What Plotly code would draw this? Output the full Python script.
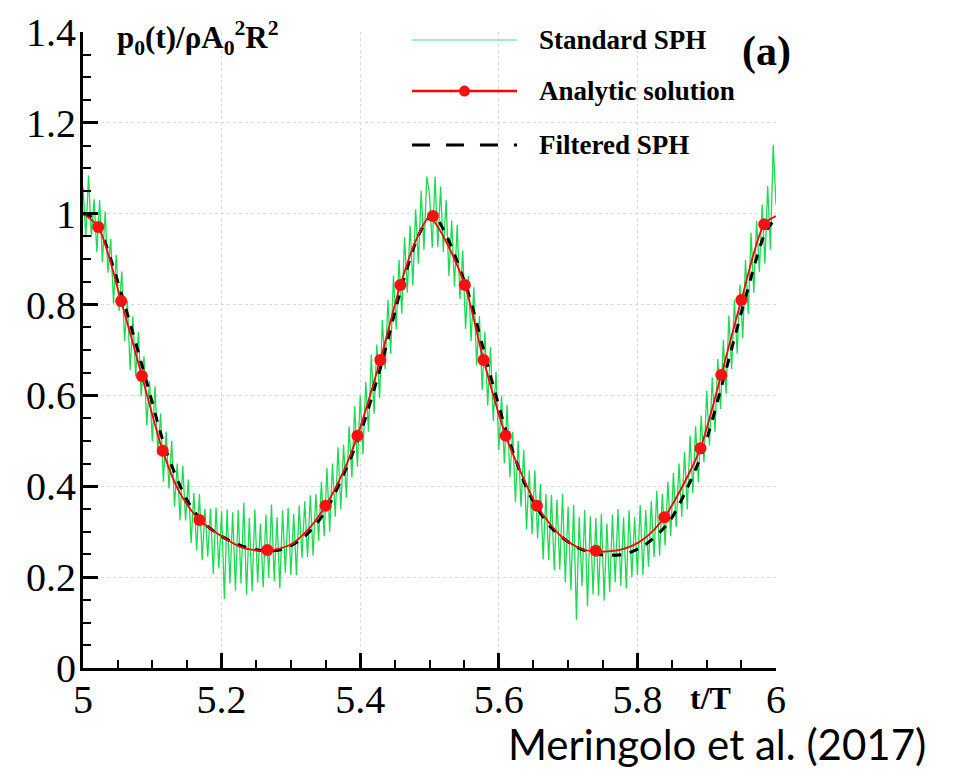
import numpy as np
import plotly.graph_objects as go

# --- data ---
# Standard SPH: sampled every 0.004 t/T from 5.0 to 6.0
sph_p = [
    1.060, 0.948, 1.084, 0.948, 1.032, 0.915, 1.030, 0.893, 1.005, 0.870,
    0.945, 0.802, 0.909, 0.786, 0.873, 0.720, 0.808, 0.656, 0.774, 0.642,
    0.740, 0.598, 0.686, 0.534, 0.632, 0.500, 0.620, 0.470, 0.560, 0.410,
    0.520, 0.395, 0.500, 0.355, 0.450, 0.325, 0.445, 0.325, 0.415, 0.275,
    0.385, 0.259, 0.383, 0.237, 0.351, 0.245, 0.351, 0.207, 0.353, 0.219,
    0.345, 0.152, 0.349, 0.186, 0.343, 0.170, 0.348, 0.186, 0.364, 0.162,
    0.330, 0.169, 0.349, 0.188, 0.318, 0.177, 0.338, 0.199, 0.360, 0.191,
    0.332, 0.175, 0.347, 0.210, 0.352, 0.205, 0.339, 0.204, 0.358, 0.243,
    0.367, 0.244, 0.380, 0.247, 0.383, 0.280, 0.410, 0.290, 0.440, 0.300,
    0.450, 0.333, 0.486, 0.349, 0.492, 0.375, 0.532, 0.419, 0.576, 0.443,
    0.600, 0.470, 0.630, 0.520, 0.690, 0.560, 0.712, 0.594, 0.766, 0.658,
    0.810, 0.692, 0.864, 0.746, 0.898, 0.780, 0.948, 0.826, 0.974, 0.842,
    1.010, 0.890, 1.051, 0.921, 1.082,
    1.042, 0.925, 1.082, 0.926, 1.060, 0.915, 1.030, 0.863, 0.985, 0.840,
    0.975, 0.812, 0.919, 0.746, 0.863, 0.720, 0.838, 0.666, 0.774, 0.612,
    0.740, 0.578, 0.706, 0.544, 0.652, 0.480, 0.600, 0.450, 0.580, 0.420,
    0.520, 0.365, 0.500, 0.355, 0.480, 0.305, 0.435, 0.295, 0.435, 0.285,
    0.405, 0.239, 0.383, 0.237, 0.381, 0.215, 0.371, 0.217, 0.383, 0.189,
    0.355, 0.172, 0.359, 0.106, 0.333, 0.180, 0.348, 0.136, 0.334, 0.162,
    0.330, 0.159, 0.339, 0.148, 0.318, 0.167, 0.338, 0.189, 0.350, 0.181,
    0.332, 0.175, 0.347, 0.200, 0.332, 0.205, 0.359, 0.204, 0.348, 0.223,
    0.367, 0.244, 0.390, 0.247, 0.383, 0.270, 0.410, 0.290, 0.430, 0.310,
    0.450, 0.333, 0.476, 0.349, 0.512, 0.385, 0.532, 0.409, 0.556, 0.453,
    0.610, 0.490, 0.640, 0.520, 0.680, 0.570, 0.722, 0.604, 0.776, 0.658,
    0.810, 0.692, 0.844, 0.726, 0.898, 0.780, 0.958, 0.826, 0.984, 0.872,
    1.020, 0.890, 1.061, 0.921, 1.152, 1.020,
]
sph_t = np.round(5.0 + 0.004 * np.arange(len(sph_p)), 3)

# analytic solution curve
exact_t = [5.000, 5.022, 5.055, 5.085, 5.115, 5.140, 5.168, 5.200, 5.230, 5.266,
           5.300, 5.325, 5.350, 5.375, 5.396, 5.429, 5.458, 5.480, 5.500, 5.520,
           5.551, 5.578, 5.610, 5.632, 5.655, 5.690, 5.720, 5.745, 5.780, 5.810,
           5.839, 5.865, 5.891, 5.921, 5.950, 5.983, 6.000]
exact_p = [1.000, 0.971, 0.808, 0.643, 0.478, 0.385, 0.326, 0.290, 0.265, 0.258,
           0.272, 0.305, 0.357, 0.430, 0.511, 0.678, 0.843, 0.940, 0.992, 0.950,
           0.843, 0.678, 0.511, 0.430, 0.357, 0.290, 0.262, 0.256, 0.262, 0.285,
           0.332, 0.400, 0.484, 0.645, 0.810, 0.977, 0.995]

# analytic solution symbols
mark_t = [5.022, 5.055, 5.085, 5.115, 5.168, 5.266, 5.350, 5.396, 5.429, 5.458,
          5.505, 5.551, 5.578, 5.610, 5.655, 5.740, 5.839, 5.891, 5.921, 5.950, 5.983]
mark_p = [0.971, 0.808, 0.643, 0.478, 0.326, 0.260, 0.357, 0.511, 0.678, 0.843,
          0.995, 0.843, 0.678, 0.511, 0.357, 0.258, 0.332, 0.484, 0.645, 0.810, 0.977]

# filtered SPH
filt_t = [5.000, 5.015, 5.030, 5.060, 5.090, 5.120, 5.150, 5.175, 5.200, 5.230,
          5.260, 5.290, 5.320, 5.350, 5.380, 5.400, 5.430, 5.460, 5.485, 5.505,
          5.525, 5.555, 5.585, 5.615, 5.645, 5.675, 5.710, 5.745, 5.780, 5.810,
          5.845, 5.870, 5.895, 5.925, 5.955, 5.985, 6.000]
filt_p = [1.000, 0.990, 0.945, 0.800, 0.640, 0.478, 0.370, 0.318, 0.290, 0.268,
          0.258, 0.262, 0.290, 0.345, 0.440, 0.515, 0.665, 0.840, 0.955, 0.998,
          0.950, 0.830, 0.660, 0.500, 0.380, 0.310, 0.268, 0.250, 0.250, 0.270,
          0.320, 0.390, 0.480, 0.640, 0.810, 0.960, 0.990]

x_ticks = [5, 5.2, 5.4, 5.6, 5.8, 6]
x_labels = ["5", "5.2", "5.4", "5.6", "5.8", "6"]
y_ticks = [0, 0.2, 0.4, 0.6, 0.8, 1.0, 1.2, 1.4]
y_labels = ["0", "0.2", "0.4", "0.6", "0.8", "1", "1.2", "1.4"]

legend_names = ["Standard SPH", "Analytic solution", "Filtered SPH"]

GREEN = "#19dc50"
SERIF = "Liberation Serif"

fig = go.Figure()
fig.add_trace(go.Scatter(x=sph_t, y=sph_p, mode="lines",
                         line=dict(color=GREEN, width=1.3), name=legend_names[0]))
fig.add_trace(go.Scatter(x=filt_t, y=filt_p, mode="lines",
                         line=dict(color="black", width=3, dash="dash",
                                   shape="spline", smoothing=0.8),
                         name=legend_names[2]))
fig.add_trace(go.Scatter(x=exact_t, y=exact_p, mode="lines",
                         line=dict(color="#ff0000", width=1.8, shape="spline", smoothing=0.8),
                         name=legend_names[1]))
fig.add_trace(go.Scatter(x=mark_t, y=mark_p, mode="markers",
                         marker=dict(color="#ff1010", size=12), name=legend_names[1]))

# --- hand-made legend (long line samples like the original) ---
rows = [0.9874, 0.9072, 0.8223]
x0, x1, xt = 0.4747, 0.6263, 0.655
shapes = [
    dict(type="line", xref="paper", yref="paper", x0=x0, x1=x1, y0=rows[0], y1=rows[0],
         line=dict(color="#7fe6b4", width=1.5)),
    dict(type="line", xref="paper", yref="paper", x0=x0, x1=x1, y0=rows[1], y1=rows[1],
         line=dict(color="#ff0000", width=2.5)),
    dict(type="circle", xref="paper", yref="paper", xsizemode="pixel", ysizemode="pixel",
         xanchor=(x0 + x1) / 2, yanchor=rows[1], x0=-5.5, x1=5.5, y0=-5.5, y1=5.5,
         fillcolor="#ff1010", line=dict(color="#ff1010", width=0)),
    dict(type="line", xref="paper", yref="paper", x0=x0, x1=x1, y0=rows[2], y1=rows[2],
         line=dict(color="black", width=3, dash="18px,16px")),
]
annotations = []
for name, yy in zip(legend_names, rows):
    annotations.append(dict(text="<b>%s</b>" % name, xref="paper", yref="paper",
                            x=xt, y=yy, xanchor="left", yanchor="middle", showarrow=False,
                            font=dict(family=SERIF, size=27, color="black")))

annotations += [
    dict(text="<b>(a)</b>", xref="paper", yref="paper", x=0.986, y=0.970,
         xanchor="center", yanchor="middle", showarrow=False,
         font=dict(family=SERIF, size=42, color="black")),
    dict(text="<b>p<sub>0</sub>(t)/ρA<sub>0</sub><sup>2</sup>R<sup>2</sup></b>",
         xref="paper", yref="paper", x=0.046, y=0.99, xanchor="left", yanchor="middle",
         showarrow=False, font=dict(family=SERIF, size=31, color="black")),
    dict(text="<b>t/T</b>", xref="paper", yref="paper", x=0.906, y=-0.047,
         xanchor="center", yanchor="middle", showarrow=False,
         font=dict(family=SERIF, size=32, color="black")),
    dict(text="Meringolo et al. (2017)", xref="paper", yref="paper", x=0.915, y=-0.119,
         xanchor="center", yanchor="middle", showarrow=False,
         font=dict(family="Lato", size=42, color="black")),
]

axis_common = dict(
    automargin=False,
    showline=True, linecolor="black", linewidth=3, mirror=False,
    ticks="inside", ticklen=15, tickwidth=3, tickcolor="black",
    showgrid=True, gridcolor="#d9d9d9", griddash="dot", gridwidth=1,
    zeroline=False,
    tickfont=dict(family=SERIF, size=40, color="black"),
    minor=dict(ticks="inside", ticklen=8, tickwidth=1.5, tickcolor="black",
               dtick=0.05, showgrid=False),
)

# page body keeps an 8px margin, so the figure is 8px smaller and shifted
fig.update_layout(
    width=952, height=763,
    margin=dict(l=75, r=184, t=24, b=103),
    paper_bgcolor="white", plot_bgcolor="white",
    showlegend=False,
    shapes=shapes, annotations=annotations,
    xaxis=dict(range=[5, 6], tickvals=x_ticks, ticktext=x_labels,
               ticklabelstandoff=-6, **axis_common),
    yaxis=dict(range=[0, 1.4], tickvals=y_ticks, ticktext=y_labels,
               ticklabelstandoff=-4, **axis_common),
)

fig.write_html("out.html")
